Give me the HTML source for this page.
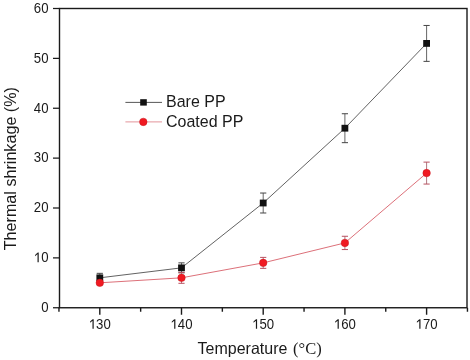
<!DOCTYPE html>
<html><head><meta charset="utf-8"><style>
html,body{margin:0;padding:0;background:#fff;width:470px;height:360px;overflow:hidden}
svg{display:block;will-change:transform}
text{font-family:"Liberation Sans",sans-serif;fill:#1a1a1a}
.tk{font-size:13.2px}
.lg{font-size:16px}
.ttl{font-size:16px}
.serif{font-family:"Liberation Serif",serif;font-size:16.5px}
</style></head><body>
<svg width="470" height="360" viewBox="0 0 470 360">
<rect x="59.5" y="8.5" width="407.5" height="299.25" fill="none" stroke="#1a1a1a" stroke-width="1.4"/>
<line x1="53" y1="307.75" x2="59.5" y2="307.75" stroke="#1a1a1a" stroke-width="1.25"/>
<g transform="translate(41.16,312.05) scale(1,1.12)"><text x="0.00" y="0" class="tk">0</text></g>
<line x1="53" y1="257.88" x2="59.5" y2="257.88" stroke="#1a1a1a" stroke-width="1.25"/>
<g transform="translate(33.82,262.18) scale(1,1.12)"><path d="M3.70,-8.6 h1.2 v8.6 h-1.2 z M3.75,-8.6 L1.30,-6.5 L1.30,-5.35 L3.75,-7.2 z" fill="#1a1a1a"/><text x="7.34" y="0" class="tk">0</text></g>
<line x1="53" y1="208.00" x2="59.5" y2="208.00" stroke="#1a1a1a" stroke-width="1.25"/>
<g transform="translate(33.82,212.30) scale(1,1.12)"><text x="0.00" y="0" class="tk">2</text><text x="7.34" y="0" class="tk">0</text></g>
<line x1="53" y1="158.12" x2="59.5" y2="158.12" stroke="#1a1a1a" stroke-width="1.25"/>
<g transform="translate(33.82,162.43) scale(1,1.12)"><text x="0.00" y="0" class="tk">3</text><text x="7.34" y="0" class="tk">0</text></g>
<line x1="53" y1="108.25" x2="59.5" y2="108.25" stroke="#1a1a1a" stroke-width="1.25"/>
<g transform="translate(33.82,112.55) scale(1,1.12)"><text x="0.00" y="0" class="tk">4</text><text x="7.34" y="0" class="tk">0</text></g>
<line x1="53" y1="58.38" x2="59.5" y2="58.38" stroke="#1a1a1a" stroke-width="1.25"/>
<g transform="translate(33.82,62.67) scale(1,1.12)"><text x="0.00" y="0" class="tk">5</text><text x="7.34" y="0" class="tk">0</text></g>
<line x1="53" y1="8.50" x2="59.5" y2="8.50" stroke="#1a1a1a" stroke-width="1.25"/>
<g transform="translate(33.82,12.80) scale(1,1.12)"><text x="0.00" y="0" class="tk">6</text><text x="7.34" y="0" class="tk">0</text></g>
<line x1="58.95" y1="307.75" x2="58.95" y2="311.75" stroke="#1a1a1a" stroke-width="1.4"/>
<line x1="99.80" y1="307.75" x2="99.80" y2="314.75" stroke="#1a1a1a" stroke-width="1.4"/>
<g transform="translate(88.79,328.80) scale(1,1.12)"><path d="M3.70,-8.6 h1.2 v8.6 h-1.2 z M3.75,-8.6 L1.30,-6.5 L1.30,-5.35 L3.75,-7.2 z" fill="#1a1a1a"/><text x="7.34" y="0" class="tk">3</text><text x="14.68" y="0" class="tk">0</text></g>
<line x1="140.65" y1="307.75" x2="140.65" y2="311.75" stroke="#1a1a1a" stroke-width="1.4"/>
<line x1="181.50" y1="307.75" x2="181.50" y2="314.75" stroke="#1a1a1a" stroke-width="1.4"/>
<g transform="translate(170.49,328.80) scale(1,1.12)"><path d="M3.70,-8.6 h1.2 v8.6 h-1.2 z M3.75,-8.6 L1.30,-6.5 L1.30,-5.35 L3.75,-7.2 z" fill="#1a1a1a"/><text x="7.34" y="0" class="tk">4</text><text x="14.68" y="0" class="tk">0</text></g>
<line x1="222.35" y1="307.75" x2="222.35" y2="311.75" stroke="#1a1a1a" stroke-width="1.4"/>
<line x1="263.20" y1="307.75" x2="263.20" y2="314.75" stroke="#1a1a1a" stroke-width="1.4"/>
<g transform="translate(252.19,328.80) scale(1,1.12)"><path d="M3.70,-8.6 h1.2 v8.6 h-1.2 z M3.75,-8.6 L1.30,-6.5 L1.30,-5.35 L3.75,-7.2 z" fill="#1a1a1a"/><text x="7.34" y="0" class="tk">5</text><text x="14.68" y="0" class="tk">0</text></g>
<line x1="304.05" y1="307.75" x2="304.05" y2="311.75" stroke="#1a1a1a" stroke-width="1.4"/>
<line x1="344.90" y1="307.75" x2="344.90" y2="314.75" stroke="#1a1a1a" stroke-width="1.4"/>
<g transform="translate(333.89,328.80) scale(1,1.12)"><path d="M3.70,-8.6 h1.2 v8.6 h-1.2 z M3.75,-8.6 L1.30,-6.5 L1.30,-5.35 L3.75,-7.2 z" fill="#1a1a1a"/><text x="7.34" y="0" class="tk">6</text><text x="14.68" y="0" class="tk">0</text></g>
<line x1="385.75" y1="307.75" x2="385.75" y2="311.75" stroke="#1a1a1a" stroke-width="1.4"/>
<line x1="426.60" y1="307.75" x2="426.60" y2="314.75" stroke="#1a1a1a" stroke-width="1.4"/>
<g transform="translate(415.59,328.80) scale(1,1.12)"><path d="M3.70,-8.6 h1.2 v8.6 h-1.2 z M3.75,-8.6 L1.30,-6.5 L1.30,-5.35 L3.75,-7.2 z" fill="#1a1a1a"/><text x="7.34" y="0" class="tk">7</text><text x="14.68" y="0" class="tk">0</text></g>
<line x1="467.45" y1="307.75" x2="467.45" y2="311.75" stroke="#1a1a1a" stroke-width="1.4"/>
<polyline fill="none" stroke="#505050" stroke-width="0.9" points="99.80,277.82 181.50,267.85 263.20,203.01 344.90,128.20 426.60,43.41"/>
<polyline fill="none" stroke="#d8606a" stroke-width="0.9" points="99.80,282.81 181.50,277.82 263.20,262.86 344.90,242.91 426.60,173.09"/>
<line x1="99.80" y1="273.34" x2="99.80" y2="282.31" stroke="#666" stroke-width="1"/><line x1="96.70" y1="273.34" x2="102.90" y2="273.34" stroke="#444" stroke-width="1"/><line x1="96.70" y1="282.31" x2="102.90" y2="282.31" stroke="#444" stroke-width="1"/>
<line x1="181.50" y1="262.86" x2="181.50" y2="272.84" stroke="#666" stroke-width="1"/><line x1="178.40" y1="262.86" x2="184.60" y2="262.86" stroke="#444" stroke-width="1"/><line x1="178.40" y1="272.84" x2="184.60" y2="272.84" stroke="#444" stroke-width="1"/>
<line x1="263.20" y1="193.04" x2="263.20" y2="212.99" stroke="#666" stroke-width="1"/><line x1="260.10" y1="193.04" x2="266.30" y2="193.04" stroke="#444" stroke-width="1"/><line x1="260.10" y1="212.99" x2="266.30" y2="212.99" stroke="#444" stroke-width="1"/>
<line x1="344.90" y1="113.74" x2="344.90" y2="142.66" stroke="#666" stroke-width="1"/><line x1="341.80" y1="113.74" x2="348.00" y2="113.74" stroke="#444" stroke-width="1"/><line x1="341.80" y1="142.66" x2="348.00" y2="142.66" stroke="#444" stroke-width="1"/>
<line x1="426.60" y1="25.46" x2="426.60" y2="61.37" stroke="#666" stroke-width="1"/><line x1="423.50" y1="25.46" x2="429.70" y2="25.46" stroke="#444" stroke-width="1"/><line x1="423.50" y1="61.37" x2="429.70" y2="61.37" stroke="#444" stroke-width="1"/>
<line x1="99.80" y1="280.82" x2="99.80" y2="284.81" stroke="#b07880" stroke-width="1"/><line x1="96.70" y1="280.82" x2="102.90" y2="280.82" stroke="#b85060" stroke-width="1"/><line x1="96.70" y1="284.81" x2="102.90" y2="284.81" stroke="#b85060" stroke-width="1"/>
<line x1="181.50" y1="272.34" x2="181.50" y2="283.31" stroke="#b07880" stroke-width="1"/><line x1="178.40" y1="272.34" x2="184.60" y2="272.34" stroke="#b85060" stroke-width="1"/><line x1="178.40" y1="283.31" x2="184.60" y2="283.31" stroke="#b85060" stroke-width="1"/>
<line x1="263.20" y1="257.38" x2="263.20" y2="268.35" stroke="#b07880" stroke-width="1"/><line x1="260.10" y1="257.38" x2="266.30" y2="257.38" stroke="#b85060" stroke-width="1"/><line x1="260.10" y1="268.35" x2="266.30" y2="268.35" stroke="#b85060" stroke-width="1"/>
<line x1="344.90" y1="236.28" x2="344.90" y2="249.55" stroke="#b07880" stroke-width="1"/><line x1="341.80" y1="236.28" x2="348.00" y2="236.28" stroke="#b85060" stroke-width="1"/><line x1="341.80" y1="249.55" x2="348.00" y2="249.55" stroke="#b85060" stroke-width="1"/>
<line x1="426.60" y1="162.12" x2="426.60" y2="184.06" stroke="#b07880" stroke-width="1"/><line x1="423.50" y1="162.12" x2="429.70" y2="162.12" stroke="#b85060" stroke-width="1"/><line x1="423.50" y1="184.06" x2="429.70" y2="184.06" stroke="#b85060" stroke-width="1"/>
<rect x="96.40" y="274.43" width="6.8" height="6.8" fill="#111"/>
<rect x="178.10" y="264.45" width="6.8" height="6.8" fill="#111"/>
<rect x="259.80" y="199.61" width="6.8" height="6.8" fill="#111"/>
<rect x="341.50" y="124.80" width="6.8" height="6.8" fill="#111"/>
<rect x="423.20" y="40.01" width="6.8" height="6.8" fill="#111"/>
<circle cx="99.80" cy="282.81" r="3.75" fill="#f01a22" stroke="#c8141c" stroke-width="0.5"/>
<circle cx="181.50" cy="277.82" r="3.75" fill="#f01a22" stroke="#c8141c" stroke-width="0.5"/>
<circle cx="263.20" cy="262.86" r="3.75" fill="#f01a22" stroke="#c8141c" stroke-width="0.5"/>
<circle cx="344.90" cy="242.91" r="3.75" fill="#f01a22" stroke="#c8141c" stroke-width="0.5"/>
<circle cx="426.60" cy="173.09" r="3.75" fill="#f01a22" stroke="#c8141c" stroke-width="0.5"/>
<line x1="125.4" y1="102.4" x2="162" y2="102.4" stroke="#444" stroke-width="0.9"/>
<rect x="140.2" y="99.2" width="6.6" height="6.4" fill="#111"/>
<text transform="translate(166,107.1) scale(1,1.04)" class="lg">Bare PP</text>
<line x1="125.4" y1="121.9" x2="162" y2="121.9" stroke="#e08890" stroke-width="0.9"/>
<circle cx="143.3" cy="121.9" r="3.75" fill="#f01a22" stroke="#c8141c" stroke-width="0.5"/>
<text transform="translate(166,127) scale(1,1.04)" class="lg">Coated PP</text>
<text transform="translate(16.2,250.3) rotate(-90)" class="ttl" style="font-size:16.15px">Thermal shrinkage (%)</text>
<text transform="translate(197.6,354) scale(1,1.03)" class="ttl">Temperature</text>
<text x="293.1" y="354" class="ttl serif" font-size="16.5">(°C)</text>
</svg>
</body></html>
